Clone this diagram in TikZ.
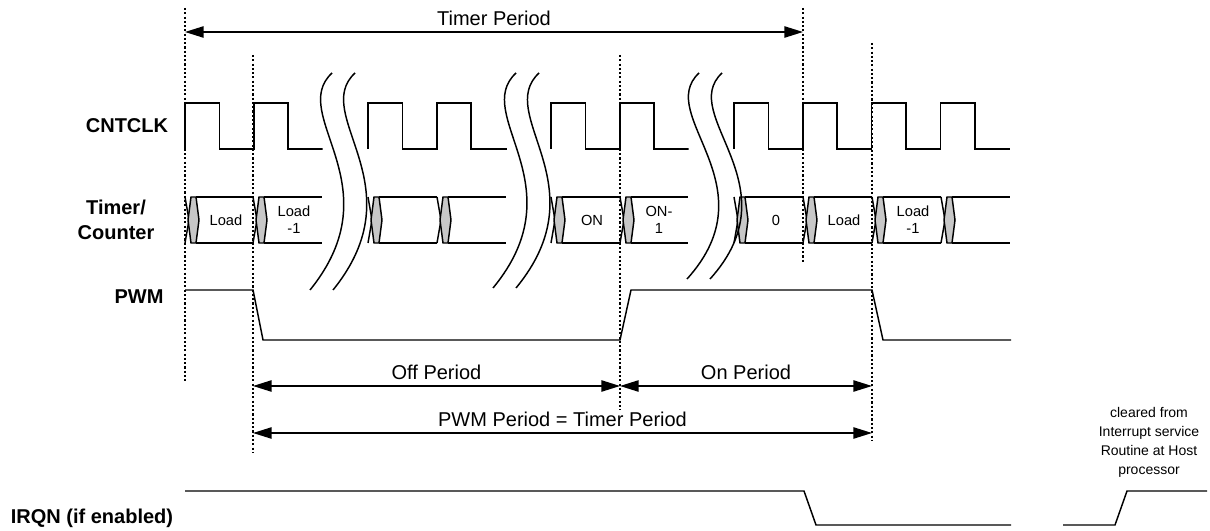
\documentclass[tikz,border=0pt]{standalone}
\usepackage{fontspec}
\setmainfont{Liberation Sans}
\usetikzlibrary{arrows.meta, positioning, calc}

\begin{document}
\begin{tikzpicture}[
  x=0.75pt, y=-0.75pt,
  sig/.style={line width=1.1pt, line join=miter},
  guide/.style={line width=0.8pt, dash pattern=on 1.6pt off 1.6pt},
  dimarr/.style={line width=1.1pt, {Triangle[length=14pt,width=8.5pt]}-{Triangle[length=14pt,width=8.5pt]}},
  brk/.style={line width=1.1pt},
  xcell/.style={line width=1.1pt, fill=black!22},
  lbl/.style={font=\fontsize{15}{18.5}\selectfont\bfseries, align=center},
  per/.style={font=\fontsize{15}{18}\selectfont, midway, yshift=10.5pt},
  val/.style={font=\fontsize{11}{12.5}\selectfont, align=center},
  note/.style={font=\fontsize{10.5}{14.2}\selectfont, align=center}
]
  \useasboundingbox (0,0) rectangle (1210,531);

  % signal names
  \node[lbl] (nclk) at (127,126) {CNTCLK};
  \node[lbl] (ntc) at (116,220) {Timer/\\Counter};
  \node[lbl] (npwm) at (139,297) {PWM};
  \node[lbl] (nirq) at (92,518) {IRQN (if enabled)};

  % dotted guides
  \draw[guide] (185,8) -- (185,382);
  \draw[guide] (253,55) -- (253,452);
  \draw[guide] (620,55) -- (620,410);
  \draw[guide] (803,8) -- (803,263);
  \draw[guide] (872,43) -- (872,440);

  % CNTCLK
  \foreach \s/\n/\e in {185/2/322, 368/2/506, 551/2/688, 734/4/1010}
    \draw[sig] (\s,149) \foreach \k in {1,...,\n} { -- ++(0,-46) -- ++(34.4,0) -- ++(0,46) -- ++(34.4,0) } -- (\e,149);

  % Timer/Counter bus
  \foreach \a/\b in {185/253, 253/322, 368/437, 437/506, 551/620, 620/688, 734/803, 803/872, 872/941, 941/1010}
    \draw[sig] (\a+11,197) -- (\b,197) (\a+11,243) -- (\b,243);
  \foreach \t in {185,253,368,437,551,620,734,803,872,941} {
    \draw[sig] (\t,197) -- (\t+4,220) -- (\t,243);
    \filldraw[xcell] (\t+3,220) -- (\t+6,197) -- (\t+11,197) -- (\t+14,220) -- (\t+11,243) -- (\t+6,243) -- cycle;
  }
  \node[val] (v1) at (226,220) {Load};
  \node[val] (v2) at (294,220) {Load\\-1};
  \node[val] (v3) at (592,220) {ON};
  \node[val] (v4) at (659,220) {ON-\\1};
  \node[val] (v5) at (776,220) {0};
  \node[val] (v6) at (844,220) {Load};
  \node[val] (v7) at (913,220) {Load\\-1};

  % breaks
  \foreach \tx/\bx/\by in {332/310/290, 516/493/288, 699/687/279}
    \foreach \d in {0,23}
      \draw[brk] (\tx+\d,73) .. controls (\tx-45+\d,115) and (\bx+85+\d,185) .. (\bx+\d,\by);

  % PWM
  \draw[sig] (185,290) -- (253,290) -- (263,340) -- (620,340) -- (631,290) -- (872,290) -- (883,340) -- (1011,340);

  % periods
  \coordinate (tpl) at (185,32);
  \coordinate (tpr) at (803,32);
  \coordinate (opl) at (253,386);
  \coordinate (opm) at (620,386);
  \coordinate (opr) at (872,386);
  \coordinate (ppl) at (253,433);
  \coordinate (ppr) at (872,433);
  \draw[dimarr] (tpl) -- node[per] (ttp) {Timer Period} (tpr);
  \draw[dimarr] (opl) -- node[per] (toff) {Off Period} (opm);
  \draw[dimarr] (opm) -- node[per] (ton) {On Period} (opr);
  \draw[dimarr] (ppl) -- node[per] (tpwm) {PWM Period = Timer Period} (ppr);

  % IRQN
  \draw[sig] (185,491) -- (804,491) -- (816,525) -- (1011,525);
  \draw[sig] (1063,525) -- (1115,525) -- (1127,491) -- (1207,491);
  \node[note] (nclr) at (1149,442) {cleared from\\Interrupt service\\Routine at Host\\processor};
\end{tikzpicture}
\end{document}
